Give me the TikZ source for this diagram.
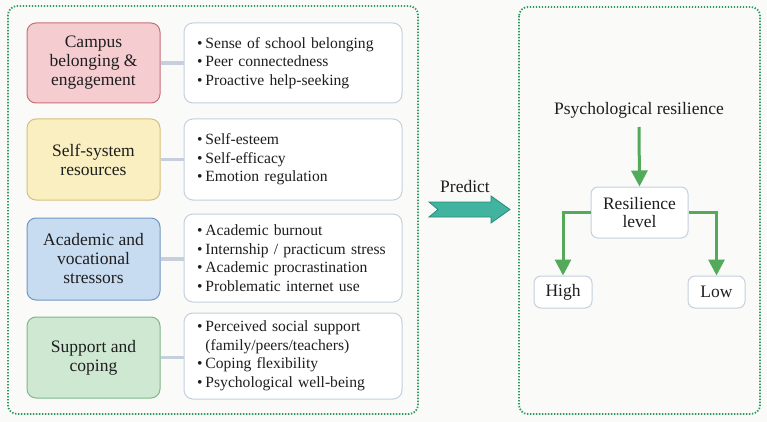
\documentclass[tikz,border=0pt]{standalone}
\usepackage{fontspec}
\setmainfont{Liberation Serif}
\usetikzlibrary{arrows.meta}
\definecolor{bgc}{HTML}{FAFAF8}
\definecolor{dotg}{HTML}{2E9A5E}
\definecolor{txt}{HTML}{1E1E1E}
\definecolor{linkc}{HTML}{C5D0DC}
\definecolor{listb}{HTML}{C3D0DF}
\definecolor{redf}{HTML}{F5CDD1}\definecolor{redb}{HTML}{C96F79}
\definecolor{yelf}{HTML}{FAEFC0}\definecolor{yelb}{HTML}{D6C07A}
\definecolor{bluf}{HTML}{C8DCF1}\definecolor{blub}{HTML}{6F96C4}
\definecolor{grnf}{HTML}{CFE8D2}\definecolor{grnb}{HTML}{7DB98A}
\definecolor{arrg}{HTML}{52AA5A}
\definecolor{tealf}{HTML}{40B49F}\definecolor{tealb}{HTML}{2A8A78}
\tikzset{
  frame/.style={draw=dotg, line width=1.8pt, dash pattern=on 1.4pt off 1.6pt, rounded corners=9pt},
  catbox/.style={draw, line width=1pt, rounded corners=9pt, minimum width=133pt, align=center,
    text=txt, font=\fontsize{17.5}{19}\selectfont, inner sep=0pt},
  listbox/.style={draw=listb, fill=white, line width=1pt, rounded corners=9pt, minimum width=218pt,
    text width=192pt, align=left, text=txt, font=\fontsize{15.6}{18.5}\selectfont, inner xsep=13pt, inner ysep=0pt},
  link/.style={draw=linkc, line width=3.5pt},
  smallbox/.style={draw=listb, fill=white, line width=1pt, rounded corners=7pt, align=center,
    text=txt, font=\fontsize{17.5}{18.5}\selectfont, inner sep=0pt},
  garrow/.style={draw=arrg, line width=3pt, -{Triangle[length=16pt,width=16pt]}},
  lbl/.style={text=txt, font=\fontsize{17.5}{19}\selectfont, inner sep=0pt}
}
\newcommand{\bul}{\textbullet\hspace{3pt}}
\newcommand{\nobul}{\phantom{\textbullet}\hspace{3pt}}
\begin{document}
\begin{tikzpicture}[x=1pt,y=-1pt]
\fill[bgc] (0,0) rectangle (767,422);
\useasboundingbox (0,0) rectangle (767,422);
% frames
\draw[frame] (8,6) rectangle (418,414);
\draw[frame] (519,7) rectangle (760,414);
% category boxes
\node[catbox, draw=redb, fill=redf, minimum height=80pt] (c1) at (93.5,63) {Campus\\belonging \&\\engagement};
\node[catbox, draw=yelb, fill=yelf, minimum height=81pt] (c2) at (93.5,159.5) {Self-system\\resources};
\node[catbox, draw=blub, fill=bluf, minimum height=82pt] (c3) at (93.5,259) {Academic and\\vocational\\stressors};
\node[catbox, draw=grnb, fill=grnf, minimum height=81pt] (c4) at (93.5,357.5) {Support and\\coping};
% lists
\node[listbox, minimum height=80pt] (l1) at (293,63) {\bul Sense of school belonging\\\bul Peer connectedness\\\bul Proactive help-seeking};
\node[listbox, minimum height=81pt] (l2) at (293,159.5) {\bul Self-esteem\\\bul Self-efficacy\\\bul Emotion regulation};
\node[listbox, minimum height=88pt] (l3) at (293,258) {\bul Academic burnout\\\bul Internship / practicum stress\\\bul Academic procrastination\\\bul Problematic internet use};
\node[listbox, minimum height=86pt] (l4) at (293,356) {\bul Perceived social support\\\nobul(family/peers/teachers)\\\bul Coping flexibility\\\bul Psychological well-being};
% links
\draw[link] (c1.east) -- (c1.east -| l1.west);
\draw[link] (c2.east) -- (c2.east -| l2.west);
\draw[link] (c3.east) -- (c3.east -| l3.west);
\draw[link] (c4.east) -- (c4.east -| l4.west);
% predict arrow
\node[lbl] (pred) at (465,187) {Predict};
\draw[fill=tealf, draw=tealb, line width=0.8pt, line join=miter]
  (429,202) -- (491,202) -- (491,196) -- (510,209.5) -- (491,223) -- (491,217) -- (429,217) -- (438,209.5) -- cycle;
% right panel
\node[lbl] (psy) at (639,110) {Psychological resilience};
\node[smallbox, minimum width=97pt, minimum height=51pt] (res) at (639.5,212.5) {Resilience\\level};
\node[smallbox, minimum width=58pt, minimum height=32pt] (high) at (563,292) {High};
\node[smallbox, minimum width=57pt, minimum height=32pt] (low) at (716.5,292) {Low};
\draw[garrow] (639,127) -- (res.north);
\draw[garrow] (res.west) -| (high.north);
\draw[garrow] (res.east) -| (low.north);
\end{tikzpicture}
\end{document}
